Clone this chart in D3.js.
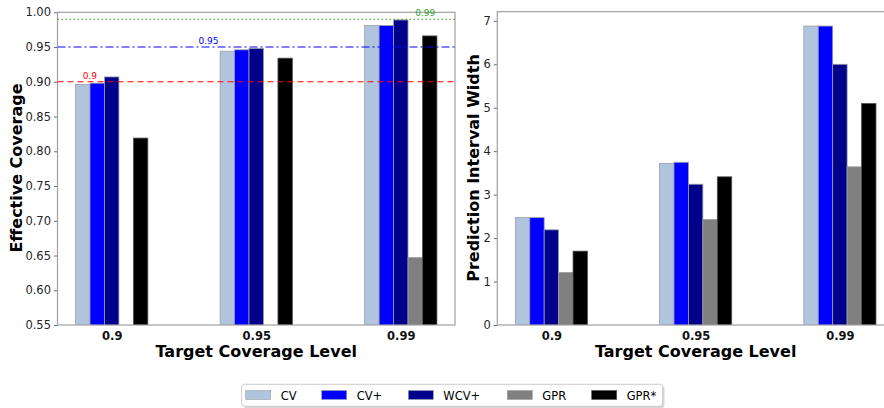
<!DOCTYPE html>
<html>
<head>
<meta charset="utf-8">
<script src="https://cdn.jsdelivr.net/npm/d3@7"></script>
<style>
  body { margin: 0; background: #fff; }
  svg { font-family: "DejaVu Sans", sans-serif; display: block; }
</style>
</head>
<body>
<div id="chart"></div>
<script>
// Data
const levels = ["0.9", "0.95", "0.99"];
const methods = ["CV", "CV+", "WCV+", "GPR", "GPR*"];
const colors = ["#b0c4de", "#0000ff", "#00008b", "#808080", "#000000"];

// effective coverage per method, one value per level
const coverage = {
    "CV":   [0.896, 0.944, 0.981],
    "CV+":  [0.898, 0.946, 0.981],
    "WCV+": [0.907, 0.948, 0.989],
    "GPR":  [0.45, 0.53, 0.647],
    "GPR*": [0.819, 0.934, 0.966]
};

// prediction interval width per method
const widths = {
    "CV":   [2.47, 3.72, 6.88],
    "CV+":  [2.47, 3.745, 6.88],
    "WCV+": [2.19, 3.24, 6.00],
    "GPR":  [1.21, 2.43, 3.64],
    "GPR*": [1.70, 3.41, 5.10]
};

const targets = [0.9, 0.95, 0.99];
const targetColors = ["red", "blue", "#2ca02c"];
const targetDash = ["6,4", "8,3,2,3", "1.5,2.5"];
const targetLabelX = [-0.2, 0.6, 2.1];

const coverageTicks = [0.55, 0.60, 0.65, 0.70, 0.75, 0.80, 0.85, 0.90, 0.95, 1.00];
const widthTicks = [0, 1, 2, 3, 4, 5, 6, 7];

let width = 884, height = 408;
let svg = d3.select('#chart')
    .append('svg')
    .attr('width', width)
    .attr('height', height);

const barW = 0.1;
const spine = '#a0a0a0';

function drawPanel(opts) {
    const xScale = d3.scaleLinear()
        .domain([-0.375, 2.375])
        .range([opts.left, opts.right]);
    const yScale = d3.scaleLinear()
        .domain(opts.yDomain)
        .range([325, opts.top]);

    const g = svg.append('g');

    // clip to plot area
    const clipId = 'clip' + opts.name;
    svg.append('clipPath').attr('id', clipId)
        .append('rect')
        .attr('x', opts.left).attr('y', opts.top)
        .attr('width', opts.right - opts.left)
        .attr('height', 325 - opts.top);

    const bars = g.append('g').attr('clip-path', `url(#${clipId})`);
    methods.forEach((m, j) => {
        opts.values[m].forEach((v, i) => {
            const x0 = xScale(i + (j - 2) * barW - barW / 2);
            const x1 = xScale(i + (j - 2) * barW + barW / 2);
            const yTop = yScale(v);
            if (yTop >= 325) return;
            bars.append('rect')
                .attr('x', x0)
                .attr('y', yTop)
                .attr('width', x1 - x0)
                .attr('height', 325 - yTop + 2)
                .attr('fill', colors[j])
                .attr('stroke', j === 4 ? '#555' : '#9aa0a8')
                .attr('stroke-width', 0.8);
        });
    });

    // y axis
    let yaxis = g.append('g')
        .attr('transform', `translate(${opts.left},0)`)
        .call(d3.axisLeft(yScale).tickValues(opts.ticks).tickFormat(opts.fmt).tickSizeOuter(0).tickSize(3.5).tickPadding(3));
    yaxis.select('.domain').remove();
    yaxis.selectAll('line').attr('stroke', '#444').attr('stroke-width', 0.8);
    yaxis.selectAll('text').attr('font-size', 11.5).attr('fill', '#262626')
        .attr('font-family', 'DejaVu Sans');

    // x axis
    let xaxis = g.append('g')
        .attr('transform', `translate(0,325)`)
        .call(d3.axisBottom(xScale).tickValues([0, 1, 2]).tickFormat(i => levels[i]).tickSize(0).tickPadding(7));
    xaxis.select('.domain').remove();
    xaxis.selectAll('text').attr('font-size', 11.5).attr('font-weight', 'bold').attr('fill', '#111')
        .attr('font-family', 'DejaVu Sans');

    // spines
    g.append('rect')
        .attr('x', opts.left).attr('y', opts.top)
        .attr('width', opts.right - opts.left).attr('height', 325 - opts.top)
        .attr('fill', 'none').attr('stroke', spine).attr('stroke-width', 1.2);

    // axis labels
    g.append('text')
        .attr('x', (opts.left + opts.right) / 2)
        .attr('y', 357)
        .attr('text-anchor', 'middle')
        .attr('font-size', 16).attr('font-weight', 'bold')
        .text('Target Coverage Level');
    g.append('text')
        .attr('transform', `translate(${opts.labelX},${opts.labelY}) rotate(-90)`)
        .attr('text-anchor', 'middle')
        .attr('font-size', 16).attr('font-weight', 'bold')
        .text(opts.ylabel);

    return { xScale, yScale, g };
}

// Left panel: effective coverage
const left = drawPanel({
    name: 'L', left: 57.5, right: 455, top: 12.3,
    yDomain: [0.55, 1.00], ticks: coverageTicks, fmt: d3.format('.2f'),
    values: coverage, ylabel: 'Effective Coverage', labelX: 22, labelY: 168
});

// target reference lines
targets.forEach((t, k) => {
    left.g.append('line')
        .attr('x1', 57.5).attr('x2', 455)
        .attr('y1', left.yScale(t)).attr('y2', left.yScale(t))
        .attr('stroke', targetColors[k])
        .attr('stroke-width', 1.1)
        .attr('stroke-dasharray', targetDash[k]);
    left.g.append('text')
        .attr('x', left.xScale(targetLabelX[k]))
        .attr('y', left.yScale(t) - 3)
        .attr('font-size', 9)
        .attr('fill', targetColors[k])
        .text(String(t));
});

// Right panel: interval width
drawPanel({
    name: 'R', left: 497.3, right: 894, top: 11.7,
    yDomain: [0, 7.21], ticks: widthTicks, fmt: d3.format('d'),
    values: widths, ylabel: 'Prediction Interval Width', labelX: 479, labelY: 168
});

// Legend
const legend = svg.append('g');
legend.append('rect')
    .attr('x', 243.5).attr('y', 386)
    .attr('width', 421).attr('height', 22)
    .attr('rx', 3).attr('fill', '#bbb').attr('opacity', 0.6);
legend.append('rect')
    .attr('x', 241.7).attr('y', 384.3)
    .attr('width', 421).attr('height', 22)
    .attr('rx', 3).attr('fill', '#fff').attr('stroke', '#cccccc');

const legendX = [245.7, 321.7, 408.3, 507.3, 591.7];
methods.forEach((m, j) => {
    legend.append('rect')
        .attr('x', legendX[j]).attr('y', 390.5)
        .attr('width', 25).attr('height', 9)
        .attr('fill', colors[j])
        .attr('stroke', j === 4 ? '#555' : '#9aa0a8').attr('stroke-width', 0.6);
    legend.append('text')
        .attr('x', legendX[j] + 35).attr('y', 399.5)
        .attr('font-size', 11.5)
        .text(m);
});
</script>
</body>
</html>
